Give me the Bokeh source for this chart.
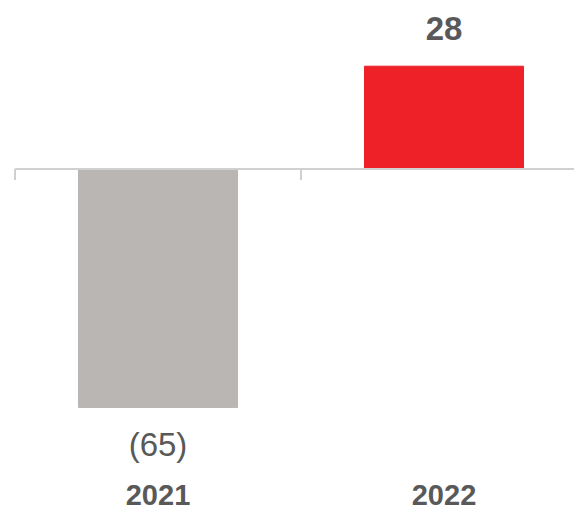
from bokeh.plotting import figure
from bokeh.models import ColumnDataSource, Range1d
from bokeh.core.properties import value
from bokeh.embed import file_html
from bokeh.resources import INLINE

categories = ["2021", "2022"]
values = [-65, 28]
value_labels = ["(65)", "28"]
bar_colors = ["#BAB6B3", "#EE2028"]

xs = [i + 1 for i in range(len(categories))]
src = ColumnDataSource(dict(
    x=xs, top=values, color=bar_colors, label=value_labels,
    cat=categories, zero=[0] * len(values),
))

p = figure(width=574, height=512, output_backend="svg", toolbar_location=None,
           x_range=Range1d(0.4493, 2.4563), y_range=Range1d(-93.6, 45.9),
           min_border=0)
p.axis.visible = False
p.grid.visible = False
p.outline_line_color = None
p.background_fill_color = "white"
p.border_fill_color = "white"

p.vbar(x="x", top="top", bottom=0, width=0.556, color="color", source=src)

# category axis line and tick marks
p.segment(x0=[0.5], y0=[0], x1=[2.6], y1=[0], line_color="#D0D0D0", line_width=2)
tick_x = [0.5, 1.5, 2.5]
p.segment(x0=tick_x, y0=[0] * 3, x1=tick_x, y1=[-3] * 3, line_color="#D0D0D0", line_width=2)

neg = ColumnDataSource(dict(x=[xs[0]], y=[values[0]], t=[value_labels[0]]))
pos = ColumnDataSource(dict(x=[xs[1]], y=[values[1]], t=[value_labels[1]]))
p.text(x="x", y="y", text="t", source=neg, text_align="center", text_baseline="middle",
       y_offset=37, text_font=value("Liberation Sans"), text_font_size="33px",
       text_color="#595959")
p.text(x="x", y="y", text="t", source=pos, text_align="center", text_baseline="middle",
       y_offset=-38, text_font=value("Liberation Sans"), text_font_size="33px",
       text_font_style="bold", text_color="#595959")
p.text(x="x", y="zero", text="cat", source=src, text_align="center", text_baseline="middle",
       y_offset=326, text_font=value("Liberation Sans"), text_font_size="29px",
       text_font_style="bold", text_color="#595959")

open("out.html", "w").write(file_html(p, INLINE))
